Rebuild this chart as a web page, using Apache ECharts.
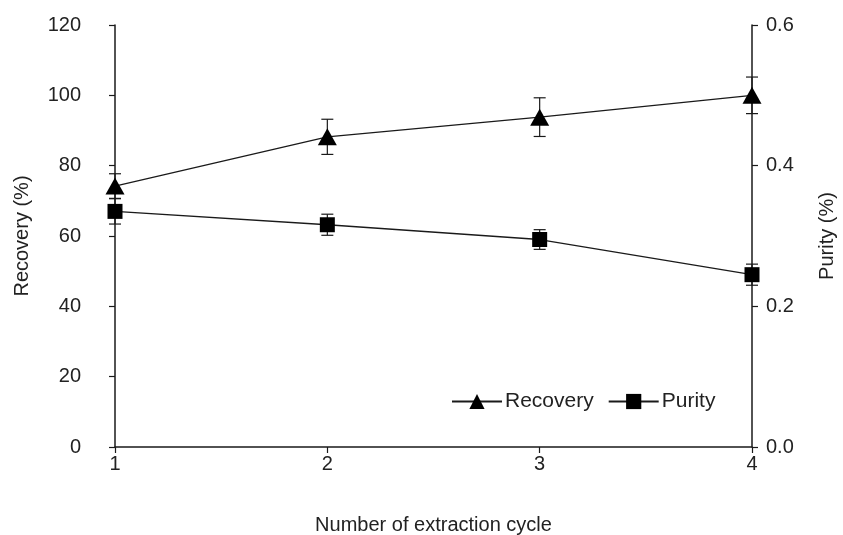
<!DOCTYPE html>
<html>
<head>
<meta charset="utf-8">
<script src="https://cdn.jsdelivr.net/npm/echarts@6/dist/echarts.min.js"></script>
<style>
  html, body { margin: 0; padding: 0; background: #fff; }
  #chart { width: 843px; height: 535px; }
</style>
</head>
<body>
<div id="chart"></div>
<script>
// Extraction cycles and measured values (mean ± error)
const cycles = [1, 2, 3, 4];
const recovery = [74.2, 88.2, 93.8, 100.0];
const recoveryErr = [3.5, 5.0, 5.5, 5.2];
const purity = [0.335, 0.316, 0.295, 0.245];
const purityErr = [0.018, 0.015, 0.014, 0.015];
const leftTicks = { min: 0, max: 120, step: 20 };
const rightTicks = { min: 0, max: 0.6, step: 0.2 };

const FONT = "'Liberation Sans Narrow', 'Liberation Sans', Arial, sans-serif";
const INK = '#1a1a1a';
const TXT = '#222';
const FS = 20;

function errorSeries(name, values, errs, axisIndex) {
  return {
    name: name + ' error',
    type: 'custom',
    yAxisIndex: axisIndex,
    silent: true,
    z: 1,
    data: cycles.map((c, i) => [c, values[i] - errs[i], values[i] + errs[i]]),
    renderItem: function (params, api) {
      const lo = api.coord([api.value(0), api.value(1)]);
      const hi = api.coord([api.value(0), api.value(2)]);
      const half = 6;
      const style = { stroke: INK, lineWidth: 1.2 };
      return {
        type: 'group',
        children: [
          { type: 'line', shape: { x1: lo[0], y1: lo[1], x2: hi[0], y2: hi[1] }, style },
          { type: 'line', shape: { x1: lo[0] - half, y1: lo[1], x2: lo[0] + half, y2: lo[1] }, style },
          { type: 'line', shape: { x1: hi[0] - half, y1: hi[1], x2: hi[0] + half, y2: hi[1] }, style }
        ]
      };
    }
  };
}

const chart = echarts.init(document.getElementById('chart'));
chart.setOption({
  animation: false,
  backgroundColor: '#fff',
  textStyle: { fontFamily: FONT },
  grid: { left: 115, right: 91, top: 25, bottom: 88, containLabel: false, outerBoundsMode: 'none' },
  legend: {
    data: ['Recovery', 'Purity'],
    left: 446,
    top: 386,
    itemWidth: 50,
    itemHeight: 19,
    itemGap: 14,
    textStyle: { fontFamily: FONT, fontSize: 21, color: TXT, padding: [0, 0, 0, -2] }
  },
  xAxis: {
    type: 'value',
    min: 1,
    max: 4,
    interval: 1,
    name: 'Number of extraction cycle',
    nameLocation: 'middle',
    nameGap: 68,
    nameTextStyle: { fontFamily: FONT, fontSize: FS, color: TXT },
    axisLine: { lineStyle: { color: INK, width: 1.5 } },
    axisTick: { show: true, length: 6, lineStyle: { color: INK, width: 1.2 } },
    axisLabel: { fontFamily: FONT, fontSize: FS, color: TXT, margin: 7 },
    splitLine: { show: false }
  },
  yAxis: [
    {
      type: 'value',
      min: leftTicks.min,
      max: leftTicks.max,
      interval: leftTicks.step,
      position: 'left',
      name: 'Recovery (%)',
      nameLocation: 'middle',
      nameGap: 83,
      nameRotate: 90,
      nameTextStyle: { fontFamily: FONT, fontSize: FS, color: TXT },
      axisLine: { show: true, lineStyle: { color: INK, width: 1.5 } },
      axisTick: { show: true, length: 6, lineStyle: { color: INK, width: 1.2 } },
      axisLabel: { fontFamily: FONT, fontSize: FS, color: TXT, margin: 34 },
      splitLine: { show: false }
    },
    {
      type: 'value',
      min: rightTicks.min,
      max: rightTicks.max,
      interval: rightTicks.step,
      position: 'right',
      name: 'Purity (%)',
      nameLocation: 'middle',
      nameGap: 65,
      nameRotate: 90,
      nameTextStyle: { fontFamily: FONT, fontSize: FS, color: TXT },
      axisLine: { show: true, lineStyle: { color: INK, width: 1.5 } },
      axisTick: { show: true, length: 6, lineStyle: { color: INK, width: 1.2 } },
      axisLabel: {
        fontFamily: FONT, fontSize: FS, color: TXT, margin: 14,
        formatter: v => v.toFixed(1)
      },
      splitLine: { show: false }
    }
  ],
  series: [
    errorSeries('Recovery', recovery, recoveryErr, 0),
    errorSeries('Purity', purity, purityErr, 1),
    {
      name: 'Recovery',
      type: 'line',
      yAxisIndex: 0,
      z: 3,
      data: cycles.map((c, i) => [c, recovery[i]]),
      symbol: 'triangle',
      symbolSize: [19, 17],
      lineStyle: { color: INK, width: 1.3 },
      itemStyle: { color: '#000', borderWidth: 0 }
    },
    {
      name: 'Purity',
      type: 'line',
      yAxisIndex: 1,
      z: 3,
      data: cycles.map((c, i) => [c, purity[i]]),
      symbol: 'rect',
      symbolSize: 15,
      lineStyle: { color: INK, width: 1.3 },
      itemStyle: { color: '#000', borderWidth: 0 }
    }
  ]
});
</script>
</body>
</html>
